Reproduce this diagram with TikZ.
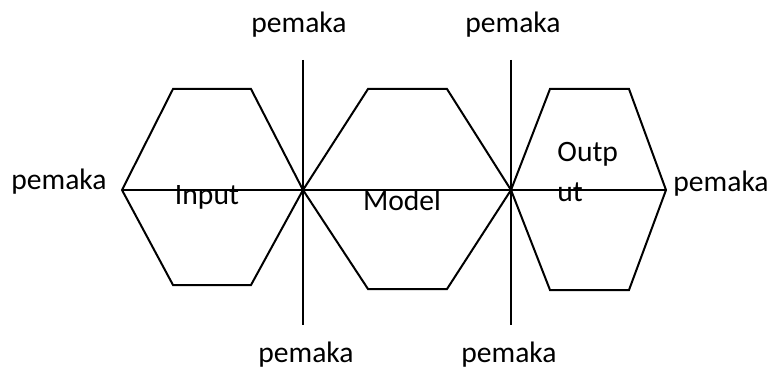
\documentclass[tikz,border=0pt]{standalone}
\usepackage{fontspec}
\setmainfont{Carlito}
\usetikzlibrary{positioning}

\begin{document}
\begin{tikzpicture}[
  x=0.5pt, y=-0.5pt,
  every node/.style={font=\fontsize{14.8}{20}\selectfont, inner sep=0pt},
  edge/.style={line width=1pt, line join=miter},
  lbl/.style={text=black, anchor=center}
]
\useasboundingbox (0,0) rectangle (771,369);
% points on the middle line
\coordinate (L) at (122,190);
\coordinate (J1) at (303,190);
\coordinate (J2) at (511,190);
\coordinate (R) at (666,190);
% ends of the upright lines
\coordinate (t1) at (303,60);
\coordinate (b1) at (303,325);
\coordinate (t2) at (511,60);
\coordinate (b2) at (511,325);

% three hexagons
\draw[edge] (L) -- (173,89) -- (251,89) -- (J1) -- (251,285) -- (173,285) -- cycle;
\draw[edge] (J1) -- (368,89) -- (447,89) -- (J2) -- (447,289) -- (368,289) -- cycle;
\draw[edge] (J2) -- (550,89) -- (629,89) -- (R) -- (629,290) -- (550,290) -- cycle;

\draw[edge] (L) -- (R);
\draw[edge] (t1) -- (b1);
\draw[edge] (t2) -- (b2);

% labels
\node[lbl] (top1) at (299,25) {pemaka};
\node[lbl] (top2) at (513,25) {pemaka};
\node[lbl] (bot1) at (306,355) {pemaka};
\node[lbl] (bot2) at (509,355) {pemaka};
\node[lbl, left=7.5pt of L, yshift=4pt] (lft) {pemaka};
\node[lbl, right=3.5pt of R, yshift=3pt] (rgt) {pemaka};

\node[lbl] (inp) at (207,197) {Input};
\node[lbl] (mdl) at (402,200) {Model};
\node[lbl, anchor=north west, align=left] (outp) at (557,142) {Outp\\ut};
\end{tikzpicture}
\end{document}
